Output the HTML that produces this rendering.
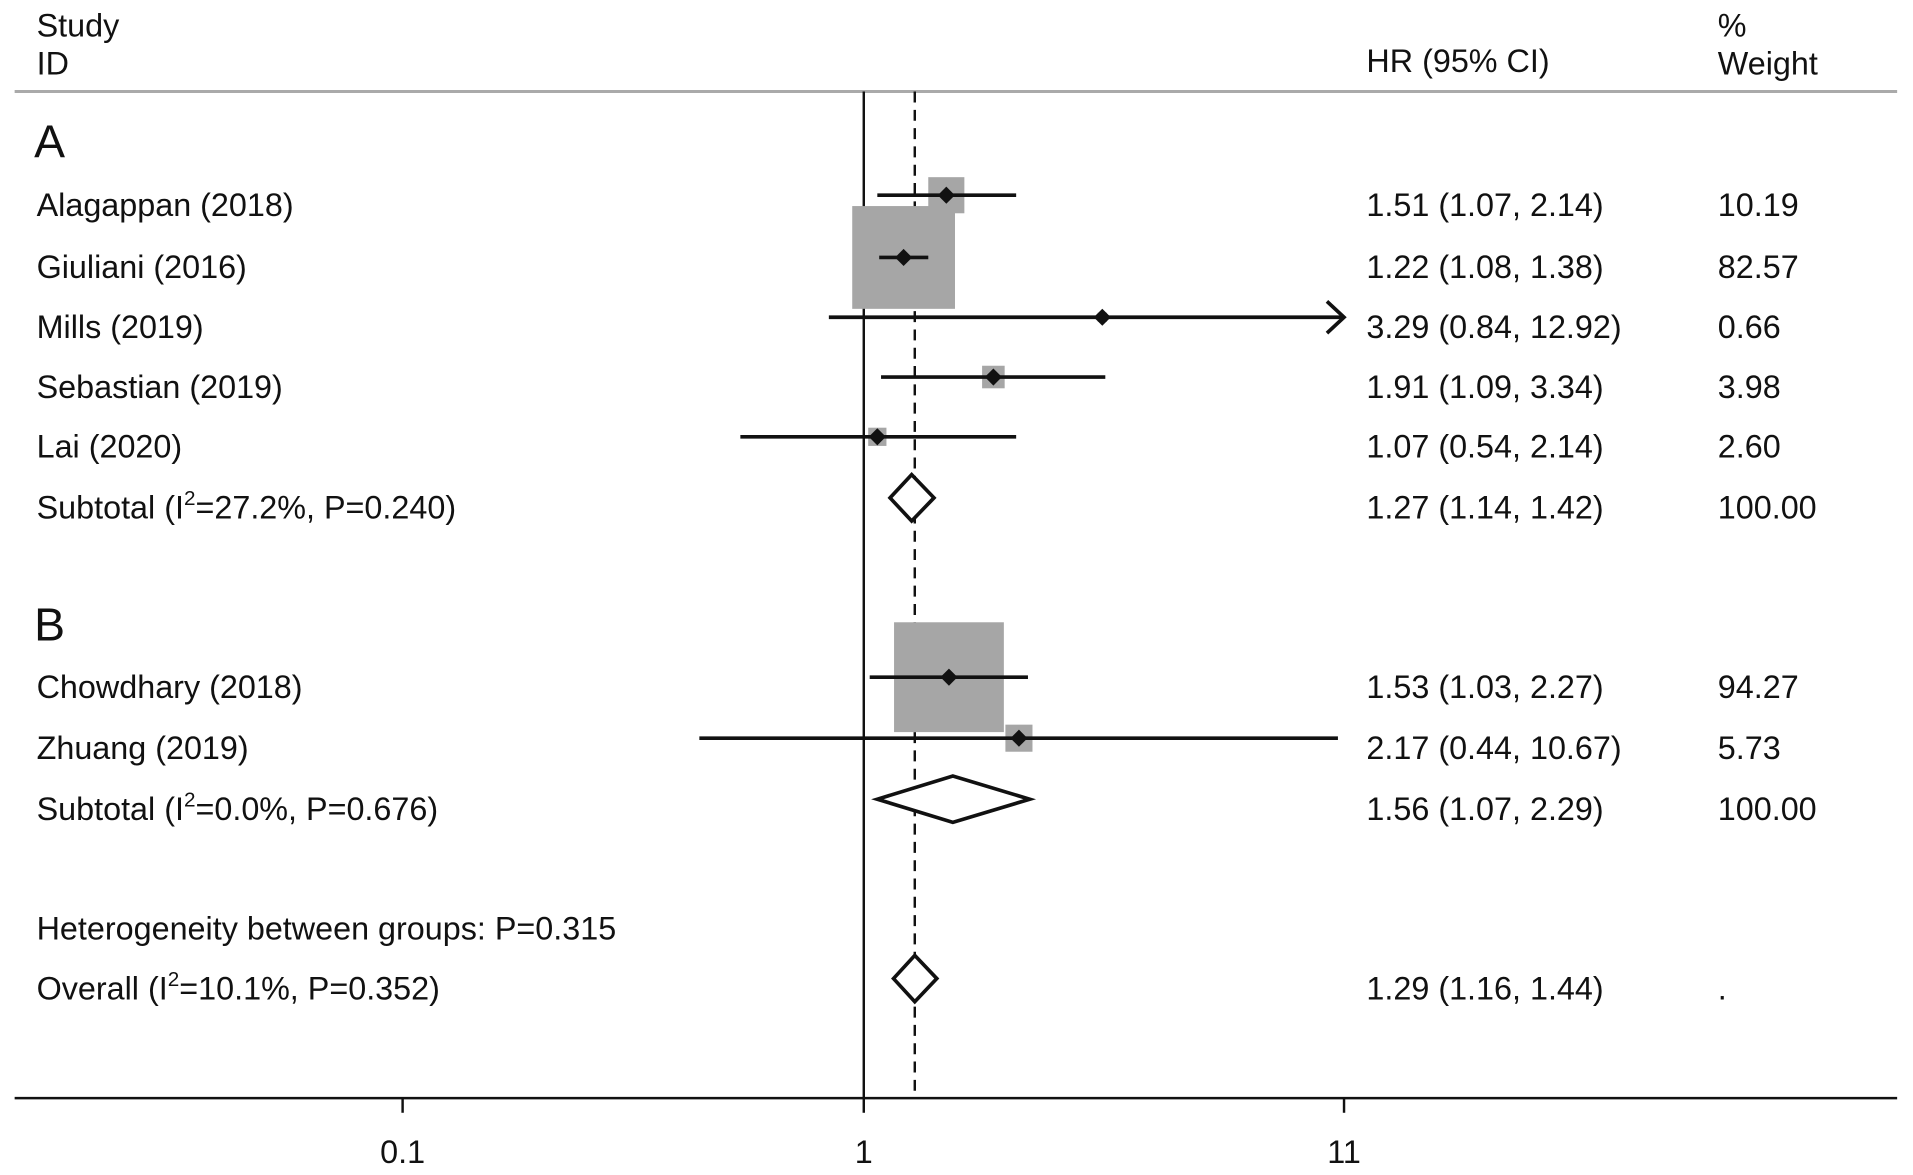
<!DOCTYPE html>
<html><head><meta charset="utf-8"><style>
html,body{margin:0;padding:0;background:#fff;}
svg{display:block;font-family:"Liberation Sans",Arial,sans-serif;}
text{fill:#111;}
</style></head><body>
<svg id="chart" width="1913" height="1175" viewBox="0 0 1568 963" preserveAspectRatio="none" xmlns="http://www.w3.org/2000/svg">
<line x1="12" y1="75" x2="1555" y2="75" stroke="#aaa" stroke-width="2.5"/>
<text x="30" y="30" font-size="26.5">Study</text>
<text x="30" y="61" font-size="26.5">ID</text>
<text x="1120" y="59" font-size="26.5">HR (95% CI)</text>
<text x="1408" y="30" font-size="26.5">%</text>
<text x="1408" y="61" font-size="26.5">Weight</text>
<text x="28" y="129" font-size="38">A</text>
<text x="28" y="525" font-size="38">B</text>
<text x="30" y="770" font-size="26.5">Heterogeneity between groups: P=0.315</text>
<g id="marks"></g>
<g id="labels"></g>
</svg>
<script>
const studies = ["Alagappan (2018)","Giuliani (2016)","Mills (2019)","Sebastian (2019)","Lai (2020)","Chowdhary (2018)","Zhuang (2019)"];
const hr = [1.51,1.22,3.29,1.91,1.07,1.53,2.17];
const lo = [1.07,1.08,0.84,1.09,0.54,1.03,0.44];
const hi = [2.14,1.38,12.92,3.34,2.14,2.27,10.67];
const weights = ["10.19","82.57","0.66","3.98","2.60","94.27","5.73"];
const studyRows = [160,211,260,309,358,555,605];
const pooledLabels = ["Subtotal (I|27.2%, P=0.240)","Subtotal (I|0.0%, P=0.676)","Overall (I|10.1%, P=0.352)"];
const pooledHr = [1.27,1.56,1.29];
const pooledLo = [1.14,1.07,1.16];
const pooledHi = [1.42,2.29,1.44];
const pooledW = ["100.00","100.00","."];
const pooledRows = [408,655,802];
const tickVals = [0.1,1,11];
const tickLabels = ["0.1","1","11"];
const xMaxVal = 11;

const NS="http://www.w3.org/2000/svg";
const X0=708, K=378, FS=26.5;
function x(v){return X0+K*Math.log10(v);}
const marks=document.getElementById('marks');
const labels=document.getElementById('labels');
function el(tag,attrs,parent){const e=document.createElementNS(NS,tag);for(const k in attrs)e.setAttribute(k,attrs[k]);(parent||marks).appendChild(e);return e;}
function fmt(v){return v.toFixed(2);}

let l=el('line',{x1:X0,y1:75,x2:X0,y2:900,stroke:'#111','stroke-width':2});


l=el('line',{x1:x(pooledHr[2]),y1:75,x2:x(pooledHr[2]),y2:900,stroke:'#111','stroke-width':2,'stroke-dasharray':'9,6'});


l=el('line',{x1:12,y1:900,x2:1555,y2:900,stroke:'#111','stroke-width':2});


tickVals.forEach((v,i)=>{
  const t=el('line',{x1:x(v),y1:900,x2:x(v),y2:912,stroke:'#111','stroke-width':2});
  
  
  const tl=el('text',{x:x(v),y:953,'font-size':FS,'text-anchor':'middle'},labels);
  tl.textContent=tickLabels[i];
  
  
});

const xClip=x(xMaxVal);
studies.forEach((s,i)=>{
  const y=studyRows[i];
  const side=9.27*Math.sqrt(parseFloat(weights[i]));
  const b=el('rect',{x:x(hr[i])-side/2,y:y-side/2,width:side,height:side,fill:'#a6a6a6'});
  
  
  const x2=Math.min(x(hi[i]),xClip);
  const ci=el('line',{x1:x(lo[i]),y1:y,x2:x2,y2:y,stroke:'#111','stroke-width':3});
  
  
  if(hi[i]>xMaxVal){
    const a=el('polyline',{points:`${x2-14},${y-13} ${x2},${y} ${x2-14},${y+13}`,fill:'none',stroke:'#111','stroke-width':3});
    
    
  }
  const cx=x(hr[i]);
  const d=el('polygon',{points:`${cx-7},${y} ${cx},${y-7} ${cx+7},${y} ${cx},${y+7}`,fill:'#111'});
  
  
  let t=el('text',{x:30,y:y+17,'font-size':FS},labels);t.textContent=s;
  
  
  t=el('text',{x:1120,y:y+17,'font-size':FS},labels);t.textContent=`${fmt(hr[i])} (${fmt(lo[i])}, ${fmt(hi[i])})`;
  
  
  t=el('text',{x:1408,y:y+17,'font-size':FS},labels);t.textContent=weights[i];
  
  
});

pooledLabels.forEach((s,i)=>{
  const y=pooledRows[i];
  const d=el('polygon',{points:`${x(pooledLo[i])},${y} ${x(pooledHr[i])},${y-19} ${x(pooledHi[i])},${y} ${x(pooledHr[i])},${y+19}`,fill:'#fff',stroke:'#111','stroke-width':3});
  
  
  const parts=s.split('|');
  const t=el('text',{x:30,y:y+17,'font-size':FS},labels);
  
  
  const t1=el('tspan',{},t);t1.textContent=parts[0];
  const t2=el('tspan',{'font-size':17,dy:-11},t);t2.textContent='2';
  const t3=el('tspan',{dy:11},t);t3.textContent='='+parts[1];
  let v=el('text',{x:1120,y:y+17,'font-size':FS},labels);v.textContent=`${fmt(pooledHr[i])} (${fmt(pooledLo[i])}, ${fmt(pooledHi[i])})`;
  
  
  v=el('text',{x:1408,y:y+17,'font-size':FS},labels);v.textContent=pooledW[i];
  
  
});
</script>
</body></html>
